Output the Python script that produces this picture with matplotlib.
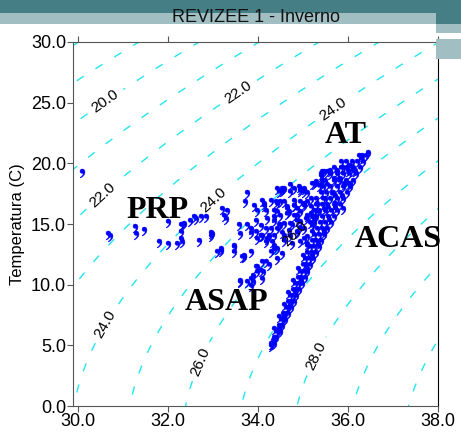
import numpy as np
import matplotlib
matplotlib.use('Agg')
import matplotlib.pyplot as plt
from matplotlib.patches import Rectangle

# ---- data (salinity, temperature) ----
# dense ACAS/AT streak: temperature rows and salinity across the streak
streak_t = [5.0, 5.5, 6.0, 6.5, 7.0, 7.5, 8.0, 8.5, 9.0, 9.5, 10.0, 10.5,
            11.0, 11.5, 12.0, 12.5, 13.0, 13.5, 14.0, 14.5, 15.0, 15.5,
            16.0, 16.5, 17.0, 17.5, 18.0, 18.5, 19.0, 19.5, 20.0, 20.5]
streak_s_left = [34.30, 34.35, 34.40, 34.46, 34.51, 34.56, 34.62, 34.67,
                 34.72, 34.78, 34.83, 34.88, 34.94, 34.99, 35.04, 35.10,
                 35.15, 35.20, 35.25, 35.31, 35.37, 35.42, 35.48, 35.54,
                 35.60, 35.67, 35.75, 35.81, 35.88, 35.97, 36.08, 36.25]
streak_s_mid = [34.32, 34.38, 34.44, 34.50, 34.55, 34.61, 34.67, 34.73,
                34.78, 34.84, 34.90, 34.96, 35.02, 35.07, 35.13, 35.19,
                35.25, 35.30, 35.36, 35.42, 35.49, 35.55, 35.62, 35.68,
                35.75, 35.82, 35.89, 35.96, 36.03, 36.11, 36.20, 36.32]
streak_s_right = [34.35, 34.41, 34.48, 34.54, 34.60, 34.66, 34.73, 34.79,
                  34.85, 34.91, 34.98, 35.04, 35.10, 35.16, 35.23, 35.29,
                  35.35, 35.41, 35.47, 35.54, 35.62, 35.69, 35.76, 35.83,
                  35.90, 35.97, 36.04, 36.11, 36.18, 36.26, 36.33, 36.40]
# in-between rows of streak stations
streak_t2 = [5.25, 6.25, 7.25, 8.25, 9.25, 10.25, 11.25, 12.25, 13.25, 14.25,
             15.25, 16.25, 17.25, 18.25, 19.25, 20.25]
streak_s2 = [34.33, 34.46, 34.58, 34.71, 34.83, 34.96, 35.09, 35.21, 35.34,
             35.46, 35.58, 35.72, 35.86, 35.99, 36.12, 36.30]
streak_t3 = [6.25, 7.25, 8.25, 9.25, 10.25, 11.25, 12.25, 13.25, 14.25]
streak_s3 = [34.36, 34.46, 34.57, 34.67, 34.78, 34.89, 34.99, 35.10, 35.20]
# upper fan of the streak (AT)
fan_t = [15.0, 15.0, 15.5, 15.5, 16.0, 16.0, 16.5, 16.5, 17.0, 17.0, 17.5, 17.5,
         18.0, 18.0, 18.5, 18.5, 19.0, 19.0, 19.5, 19.5, 20.0, 20.0,
         18.25, 18.25, 19.25, 19.25, 17.25, 16.25]
fan_s = [35.15, 35.25, 35.20, 35.30, 35.25, 35.35, 35.30, 35.42, 35.30, 35.45,
         35.40, 35.52, 35.45, 35.60, 35.50, 35.68, 35.60, 35.75, 35.70, 35.85,
         35.85, 35.95, 35.92, 36.05, 36.00, 36.15, 35.72, 35.55]
tips_s = [34.28, 36.45]
tips_t = [4.85, 20.8]

# scattered stations (PRP / ASAP / AT cloud)
cloud = [
    (30.10, 19.18), (30.66, 14.10), (30.72, 13.90), (31.26, 14.65), (31.29, 14.10),
    (31.47, 14.40), (31.80, 13.40), (31.99, 13.27), (32.00, 15.06), (32.21, 13.27),
    (32.28, 13.70), (32.32, 14.80), (32.50, 15.20), (32.62, 15.30), (32.73, 15.50),
    (32.84, 15.50), (32.69, 13.55), (32.95, 13.95), (33.10, 12.60), (32.32, 13.40),
    (32.28, 14.26), (32.35, 14.90), (33.17, 12.70), (33.46, 12.60), (33.68, 12.30),
    (33.84, 12.60), (33.61, 10.25), (33.76, 10.10), (33.84, 10.40), (33.90, 10.66),
    (33.98, 10.96), (33.98, 11.40), (34.17, 11.80), (34.24, 11.50), (34.12, 10.96),
    (33.90, 10.10), (33.57, 14.80), (33.84, 14.50), (34.06, 13.96), (34.17, 13.40),
    (34.32, 13.40), (34.43, 12.86), (34.43, 12.00), (33.24, 15.60), (33.28, 15.30),
    (33.76, 17.50), (33.72, 16.70), (33.91, 16.40), (34.10, 16.80), (34.13, 16.40),
    (34.39, 16.70), (34.54, 17.80), (34.72, 18.10), (34.91, 17.94), (35.02, 17.53),
    (33.76, 14.80), (33.84, 14.20), (33.61, 14.10), (33.47, 13.10), (33.69, 12.17),
    (34.10, 13.96), (34.24, 13.96), (34.35, 13.10), (34.54, 12.45), (34.69, 15.90),
    (34.87, 16.15), (35.02, 16.40), (35.09, 15.60), (34.76, 14.80), (34.94, 14.60),
    (32.95, 14.20), (34.43, 15.90), (34.06, 11.07), (34.10, 10.40), (34.46, 14.80),
    (34.54, 14.20), (34.57, 17.80), (34.94, 17.80), (35.24, 18.20), (35.39, 18.90),
    (35.43, 19.20), (35.61, 19.30), (35.17, 17.00), (35.31, 16.60), (35.02, 16.60),
    (34.80, 16.80), (34.65, 16.15), (34.35, 15.50), (34.87, 15.60), (35.17, 15.75),
    (35.24, 15.30), (34.50, 14.80), (34.57, 13.96), (34.87, 14.20), (35.02, 13.70),
    (35.09, 13.10), (34.35, 12.86), (35.90, 16.15), (35.83, 18.60), (35.54, 18.10),
    (35.65, 17.40), (35.72, 16.60), (35.46, 16.15), (35.50, 17.00), (35.28, 18.40),
    (35.54, 19.20), (35.76, 19.30), (35.68, 18.60), (35.90, 19.50), (36.05, 19.70),
    (34.43, 17.80), (33.20, 16.15), (33.32, 16.00), (32.58, 15.50), (32.28, 14.80),
    (32.98, 14.10), (33.17, 12.86), (33.47, 13.00), (33.65, 12.20), (33.84, 9.84),
    (33.61, 10.10), (33.95, 11.35), (34.10, 11.76), (34.28, 12.60), (34.17, 14.50),
    (33.98, 13.70), (34.50, 16.70), (34.80, 16.40), (34.94, 15.06), (35.31, 15.90),
    (35.46, 19.20), (35.39, 18.10), (35.09, 17.50),
    (35.39, 19.04), (35.43, 18.49), (35.35, 18.08), (35.20, 18.22), (35.02, 17.81),
    (34.94, 17.67), (34.80, 17.81), (34.72, 17.53), (34.54, 17.67), (34.46, 17.53),
    (34.57, 16.71), (34.43, 16.57), (34.28, 16.84), (34.13, 16.57), (34.17, 16.02),
    (33.98, 16.02), (34.35, 16.02), (34.65, 16.30), (34.80, 16.43), (34.94, 16.71),
    (35.09, 16.71), (35.17, 16.30), (34.94, 15.88), (34.80, 15.60), (34.65, 15.75),
    (34.50, 15.60), (34.35, 15.20), (34.21, 15.33), (34.06, 14.78), (33.95, 15.20),
    (34.57, 14.92), (34.72, 14.92), (34.87, 15.20), (35.06, 15.33), (35.20, 14.78),
    (35.02, 14.51), (34.87, 14.23), (34.72, 13.96), (34.57, 13.55), (34.35, 13.96),
    (34.21, 13.69), (34.06, 13.96), (33.95, 14.23), (34.28, 14.51), (34.43, 14.51),
    (34.69, 14.37), (34.76, 13.27), (34.94, 13.41), (35.09, 13.82),
]

water_masses = ['AT', 'ACAS', 'PRP', 'ASAP']
mass_s = [35.94, 37.12, 31.77, 33.30]
mass_t = [22.3, 13.7, 16.1, 8.5]

odd_levels = [15, 17, 19, 21, 23, 25, 27, 29, 31]
label_levels = [14, 16, 18, 20, 22, 24, 26, 28, 30]
label_pos = [(30.51, 25.6), (33.6, 25.6), (35.6, 24.8), (30.24, 18.6),
             (33.0, 17.0), (30.35, 7.25), (34.79, 14.3), (32.9, 3.4),
             (35.35, 4.0)]


def sigma_t(s, t):
    # UNESCO 1980 density at surface pressure, minus 1000
    rho_w = (999.842594 + 6.793952e-2 * t - 9.095290e-3 * t**2
             + 1.001685e-4 * t**3 - 1.120083e-6 * t**4 + 6.536332e-9 * t**5)
    a = (0.824493 - 4.0899e-3 * t + 7.6438e-5 * t**2 - 8.2467e-7 * t**3
         + 5.3875e-9 * t**4)
    b = -5.72466e-3 + 1.0227e-4 * t - 1.6546e-6 * t**2
    return rho_w + a * s + b * s**1.5 + 4.8314e-4 * s**2 - 1000.0


plt.rcParams['font.family'] = ['Liberation Sans', 'DejaVu Sans']
plt.rcParams['mathtext.fontset'] = 'stix'

fig = plt.figure(figsize=(4.61, 4.40), dpi=100)

# slide template bars
dark = '#467e86'
light = '#a1bfc2'
fig.patches.append(Rectangle((0, 427/440), 1, 13/440, transform=fig.transFigure,
                             facecolor=dark, edgecolor='none'))
fig.patches.append(Rectangle((0, 416/440), 436/461, 11/440, transform=fig.transFigure,
                             facecolor=light, edgecolor='none'))
fig.patches.append(Rectangle((436/461, 416/440), 25/461, 11/440, transform=fig.transFigure,
                             facecolor=dark, edgecolor='none'))
fig.patches.append(Rectangle((436/461, 407/440), 25/461, 9/440, transform=fig.transFigure,
                             facecolor=light, edgecolor='none'))
fig.patches.append(Rectangle((436/461, 381/440), 25/461, 20/440, transform=fig.transFigure,
                             facecolor=light, edgecolor='none'))
fig.text(256/461, 1 - 17/440, 'REVIZEE 1 - Inverno', ha='center', va='center',
         fontsize=13, color='#111111')

ax = fig.add_axes([73/461, 34/440, 365/461, 364/440])

# isopycnals
ss = np.linspace(29.5, 38.5, 200)
tt = np.linspace(-1, 31, 200)
S, T = np.meshgrid(ss, tt)
sig = sigma_t(S, T)
dash = [(0, (6, 10))]
ax.contour(S, T, sig, levels=odd_levels, colors='#22e6f0',
           linewidths=1.0, linestyles=dash)
cs = ax.contour(S, T, sig, levels=label_levels, colors='#22e6f0',
                linewidths=1.0, linestyles=dash)
labels = ax.clabel(cs, manual=label_pos, fmt='%.1f', inline=True,
                   fontsize=11, colors='black')
for lab in labels:
    lab.set_zorder(6)

# stations
mk = dict(marker=r'$\mathbf{,}$', linestyle='none', color='#0000ff',
          markersize=6.5, markeredgewidth=0.3)
for col in (streak_s_left, streak_s_mid, streak_s_right):
    ax.plot(col, streak_t, **mk)
ax.plot(streak_s2, streak_t2, **mk)
ax.plot(streak_s3, streak_t3, **mk)
ax.plot(fan_s, fan_t, **mk)
ax.plot(tips_s, tips_t, **mk)
cloud_s = [p[0] for p in cloud]
cloud_t = [p[1] for p in cloud]
ax.plot(cloud_s, cloud_t, **mk)

for name, x, y in zip(water_masses, mass_s, mass_t):
    ax.text(x, y, name, ha='center', va='center', fontsize=23, fontweight='bold',
            family='Liberation Serif', color='black', zorder=7)

ax.set_xlim(29.89, 38.0)
ax.set_ylim(0, 30)
ax.set_xticks(np.arange(30, 38.1, 2))
ax.set_yticks(np.arange(0, 30.1, 5))
ax.set_xticklabels(['%.1f' % v for v in np.arange(30, 38.1, 2)])
ax.set_yticklabels(['%.1f' % v for v in np.arange(0, 30.1, 5)])
ax.tick_params(direction='out', length=4, labelsize=13, colors='#555555',
               labelcolor='black', top=True, pad=1)
ax.tick_params(axis='x', labeltop=False)
for side in ('left', 'bottom', 'top'):
    ax.spines[side].set_color('#555555')
ax.spines['right'].set_color('black')
ax.set_ylabel('Temperatura (C)', fontsize=12, labelpad=4)

fig.savefig('out.png', dpi=100)
